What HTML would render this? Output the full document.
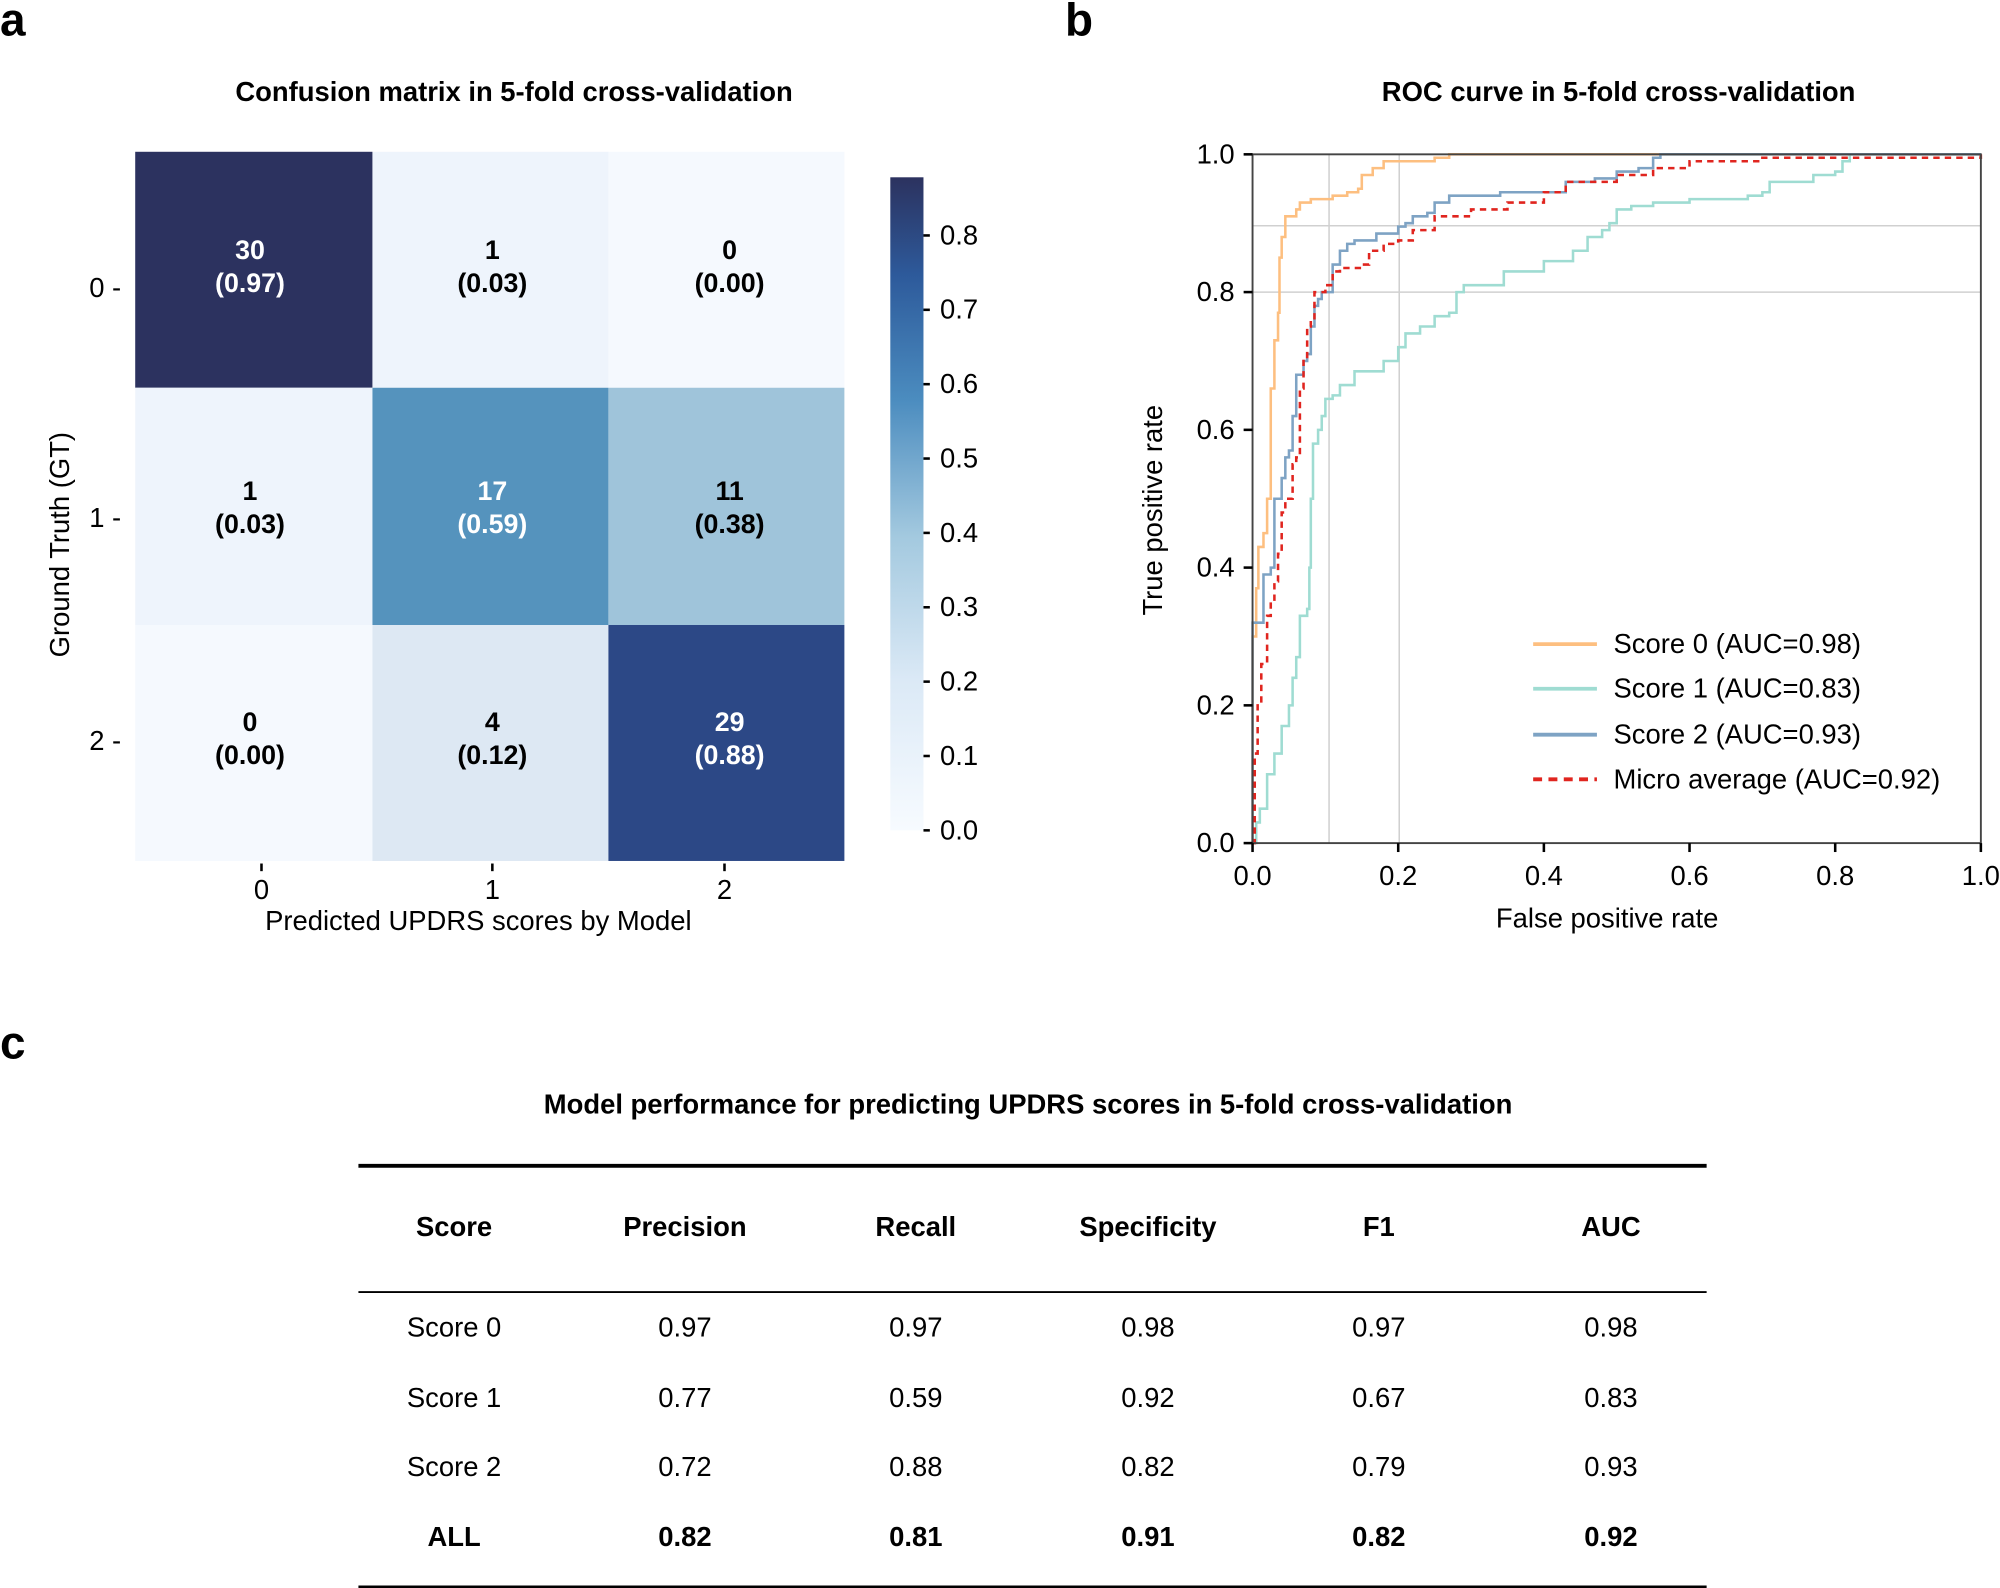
<!DOCTYPE html>
<html><head><meta charset="utf-8"><style>
html,body{margin:0;padding:0;background:#fff;}
svg{display:block;font-family:"Liberation Sans",Arial,sans-serif;}
</style></head><body>
<svg id="s" width="2000" height="1588" viewBox="0 0 1568 1245" xmlns="http://www.w3.org/2000/svg">
<rect width="1568" height="1245" fill="#fff"/>
<text x="0" y="28" font-size="36" font-weight="bold">a</text>
<text x="835" y="28" font-size="36" font-weight="bold">b</text>
<text x="0" y="830" font-size="36" font-weight="bold">c</text>

<!-- heatmap -->
<text x="403" y="79" font-size="21.5" font-weight="bold" text-anchor="middle">Confusion matrix in 5-fold cross-validation</text>
<rect x="106" y="119" width="186" height="185" fill="#2c325f"/>
<rect x="292" y="119" width="185" height="185" fill="#eef4fc"/>
<rect x="477" y="119" width="185" height="185" fill="#f5f9fe"/>
<rect x="106" y="304" width="186" height="186" fill="#eef4fc"/>
<rect x="292" y="304" width="185" height="186" fill="#5593bd"/>
<rect x="477" y="304" width="185" height="186" fill="#9fc4da"/>
<rect x="106" y="490" width="186" height="185" fill="#f5f9fe"/>
<rect x="292" y="490" width="185" height="185" fill="#dde8f3"/>
<rect x="477" y="490" width="185" height="185" fill="#2c4886"/>
<g font-size="21" font-weight="bold" text-anchor="middle">
<text x="196" y="203" fill="#fff">30</text><text x="196" y="229" fill="#fff">(0.97)</text>
<text x="386" y="203">1</text><text x="386" y="229">(0.03)</text>
<text x="572" y="203">0</text><text x="572" y="229">(0.00)</text>
<text x="196" y="392">1</text><text x="196" y="418">(0.03)</text>
<text x="386" y="392" fill="#fff">17</text><text x="386" y="418" fill="#fff">(0.59)</text>
<text x="572" y="392">11</text><text x="572" y="418">(0.38)</text>
<text x="196" y="573">0</text><text x="196" y="599">(0.00)</text>
<text x="386" y="573">4</text><text x="386" y="599">(0.12)</text>
<text x="572" y="573" fill="#fff">29</text><text x="572" y="599" fill="#fff">(0.88)</text>
</g>
<g font-size="21.5">
<text x="95" y="233" text-anchor="end">0 -</text>
<text x="95" y="413" text-anchor="end">1 -</text>
<text x="95" y="588" text-anchor="end">2 -</text>
<text x="205" y="705" text-anchor="middle">0</text>
<text x="386" y="705" text-anchor="middle">1</text>
<text x="568" y="705" text-anchor="middle">2</text>
<text x="375" y="729" text-anchor="middle">Predicted UPDRS scores by Model</text>
<text transform="translate(54,427) rotate(-90)" text-anchor="middle">Ground Truth (GT)</text>
</g>
<g stroke="#000" stroke-width="2">
<line x1="205" y1="677" x2="205" y2="683"/><line x1="386" y1="677" x2="386" y2="683"/><line x1="568" y1="677" x2="568" y2="683"/>
</g>
<defs><linearGradient id="cb" x1="0" y1="1" x2="0" y2="0">
<stop offset="0" stop-color="#f7fbff"/><stop offset="0.23" stop-color="#dbe9f6"/><stop offset="0.45" stop-color="#a3c9df"/>
<stop offset="0.66" stop-color="#4b8cbf"/><stop offset="0.85" stop-color="#2d5a9b"/><stop offset="1" stop-color="#2c325f"/></linearGradient></defs>
<rect x="698" y="139" width="26" height="512" fill="url(#cb)"/>
<g font-size="21.5" id="cbt"></g>

<!-- ROC -->
<text x="1269" y="79" font-size="21.5" font-weight="bold" text-anchor="middle">ROC curve in 5-fold cross-validation</text>
<g stroke="#d0d0d0" stroke-width="1.2">
<line x1="1042" y1="121" x2="1042" y2="661"/><line x1="1097" y1="121" x2="1097" y2="661"/>
<line x1="982" y1="177" x2="1553" y2="177"/><line x1="982" y1="229" x2="1553" y2="229"/>
</g>
<g id="curves" fill="none" stroke-width="2"></g>
<rect x="982" y="121" width="571" height="540" fill="none" stroke="#444" stroke-width="1.5"/>
<g id="rt" font-size="21.5"></g>
<text x="1260" y="727" font-size="21.5" text-anchor="middle">False positive rate</text>
<text transform="translate(911,400) rotate(-90)" font-size="21.5" text-anchor="middle">True positive rate</text>
<g stroke-width="3">
<line x1="1202" y1="505" x2="1252" y2="505" stroke="#fdbf80"/>
<line x1="1202" y1="540" x2="1252" y2="540" stroke="#9fdcd2"/>
<line x1="1202" y1="576" x2="1252" y2="576" stroke="#7ea3c4"/>
<line x1="1202" y1="611" x2="1252" y2="611" stroke="#e0251f" stroke-dasharray="7,5"/>
</g>
<g font-size="21.5">
<text x="1265" y="512">Score 0 (AUC=0.98)</text>
<text x="1265" y="547">Score 1 (AUC=0.83)</text>
<text x="1265" y="583">Score 2 (AUC=0.93)</text>
<text x="1265" y="618">Micro average (AUC=0.92)</text>
</g>

<!-- table -->
<text x="806" y="873" font-size="21.5" font-weight="bold" text-anchor="middle">Model performance for predicting UPDRS scores in 5-fold cross-validation</text>
<line x1="281" y1="914" x2="1338" y2="914" stroke="#000" stroke-width="3"/>
<line x1="281" y1="1013" x2="1338" y2="1013" stroke="#000" stroke-width="1.5"/>
<line x1="281" y1="1244" x2="1338" y2="1244" stroke="#000" stroke-width="2"/>
<g id="tb" font-size="21.5" text-anchor="middle"></g>
</svg>
<script>
var NS="http://www.w3.org/2000/svg";
function T(p,x,y,s,a){var t=document.createElementNS(NS,"text");t.setAttribute("x",x);t.setAttribute("y",y);if(a)for(var k in a)t.setAttribute(k,a[k]);t.textContent=s;p.appendChild(t);}
function L(p,x1,y1,x2,y2,w){var l=document.createElementNS(NS,"line");l.setAttribute("x1",x1);l.setAttribute("y1",y1);l.setAttribute("x2",x2);l.setAttribute("y2",y2);l.setAttribute("stroke","#000");l.setAttribute("stroke-width",w||1.5);p.appendChild(l);}
var cbt=document.getElementById("cbt");
for(var i=0;i<=8;i++){var y=651-i*58.3;L(cbt,724,y,729,y,2);T(cbt,737,y+7,(i/10).toFixed(1));}
var rt=document.getElementById("rt");
for(var i=0;i<=5;i++){var v=i/5;var y=661-540*v;L(rt,975,y,982,y,2);T(rt,968,y+7,v.toFixed(1),{"text-anchor":"end"});
var x=982+571*v;L(rt,x,661,x,668,2);T(rt,x,694,v.toFixed(1),{"text-anchor":"middle"});}
var C={
o:[[0,0],[0,0.3],[0.005,0.37],[0.008,0.43],[0.015,0.45],[0.02,0.5],[0.025,0.66],[0.03,0.73],[0.035,0.77],[0.037,0.85],[0.04,0.88],[0.045,0.91],[0.055,0.91],[0.06,0.92],[0.065,0.93],[0.08,0.935],[0.11,0.94],[0.13,0.945],[0.145,0.95],[0.15,0.97],[0.165,0.98],[0.18,0.99],[0.24,0.99],[0.25,0.995],[0.27,1.0],[1,1]],
t:[[0,0],[0.005,0.03],[0.01,0.05],[0.02,0.1],[0.03,0.13],[0.04,0.17],[0.05,0.2],[0.055,0.24],[0.06,0.27],[0.065,0.33],[0.075,0.34],[0.078,0.4],[0.08,0.5],[0.083,0.58],[0.09,0.6],[0.095,0.62],[0.1,0.645],[0.11,0.65],[0.12,0.665],[0.14,0.685],[0.175,0.685],[0.18,0.7],[0.2,0.72],[0.21,0.74],[0.23,0.75],[0.25,0.765],[0.27,0.77],[0.28,0.8],[0.29,0.81],[0.34,0.81],[0.345,0.83],[0.39,0.83],[0.4,0.845],[0.43,0.845],[0.44,0.86],[0.46,0.88],[0.48,0.89],[0.49,0.9],[0.5,0.92],[0.52,0.925],[0.55,0.93],[0.58,0.93],[0.6,0.935],[0.65,0.935],[0.68,0.94],[0.7,0.945],[0.71,0.96],[0.75,0.96],[0.77,0.97],[0.8,0.975],[0.81,0.99],[0.82,1],[1,1]],
b:[[0,0],[0,0.32],[0.015,0.33],[0.015,0.39],[0.025,0.4],[0.03,0.42],[0.03,0.5],[0.04,0.53],[0.045,0.56],[0.05,0.57],[0.055,0.62],[0.06,0.68],[0.07,0.7],[0.075,0.71],[0.08,0.75],[0.085,0.78],[0.09,0.79],[0.095,0.8],[0.105,0.8],[0.11,0.84],[0.12,0.86],[0.13,0.87],[0.14,0.875],[0.16,0.875],[0.17,0.885],[0.19,0.885],[0.2,0.895],[0.21,0.9],[0.22,0.91],[0.24,0.915],[0.25,0.93],[0.27,0.94],[0.34,0.945],[0.42,0.945],[0.43,0.96],[0.47,0.965],[0.5,0.975],[0.53,0.98],[0.55,0.995],[0.56,1],[1,1]],
r:[[0,0],[0.003,0.13],[0.007,0.2],[0.012,0.26],[0.02,0.33],[0.025,0.35],[0.03,0.38],[0.035,0.42],[0.04,0.48],[0.045,0.5],[0.055,0.55],[0.06,0.56],[0.065,0.66],[0.07,0.7],[0.075,0.75],[0.08,0.76],[0.085,0.8],[0.1,0.81],[0.11,0.83],[0.12,0.835],[0.15,0.84],[0.16,0.86],[0.18,0.87],[0.2,0.875],[0.22,0.89],[0.25,0.91],[0.3,0.92],[0.35,0.93],[0.4,0.945],[0.43,0.96],[0.5,0.97],[0.55,0.98],[0.6,0.99],[0.7,0.995],[1,1]]};
var col={o:"#fdbf80",t:"#9fdcd2",b:"#7ea3c4",r:"#e0251f"};
var cg=document.getElementById("curves");
["t","o","b","r"].forEach(function(k){var p=C[k],d="";
for(var i=0;i<p.length;i++){var X=982+571*p[i][0],Y=661-540*p[i][1];
if(i==0)d="M"+X+" "+Y;else{var pY=661-540*p[i-1][1];d+=" L"+X+" "+pY+" L"+X+" "+Y;}}
var e=document.createElementNS(NS,"path");e.setAttribute("d",d);e.setAttribute("stroke",col[k]);
if(k=="r"){e.setAttribute("stroke-dasharray","5,4");}cg.appendChild(e);});
var tb=document.getElementById("tb");
var xs=[356,537,718,900,1081,1263];
var rows=[["Score","Precision","Recall","Specificity","F1","AUC"],["Score 0","0.97","0.97","0.98","0.97","0.98"],["Score 1","0.77","0.59","0.92","0.67","0.83"],["Score 2","0.72","0.88","0.82","0.79","0.93"],["ALL","0.82","0.81","0.91","0.82","0.92"]];
var ys=[969,1048,1103,1157,1212];
rows.forEach(function(r,ri){r.forEach(function(c,ci){var a={};if(ri==0||ri==4)a["font-weight"]="bold";T(tb,xs[ci],ys[ri],c,a);});});
</script>
</body></html>
